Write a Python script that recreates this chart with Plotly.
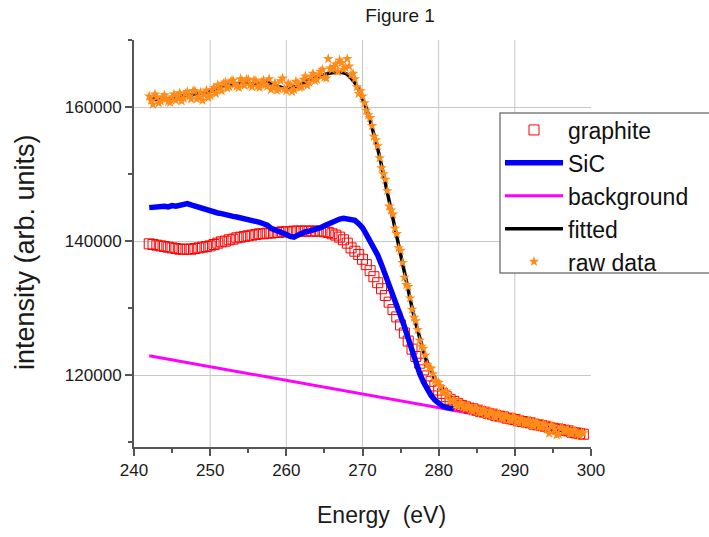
import numpy as np
import plotly.graph_objects as go

# Energy grid (eV) of the sampled spectra
energy = np.round(np.arange(242.0, 299.01, 0.5), 2)
energy_q = np.round(np.arange(242.25, 298.8, 0.5), 2)   # in-between raw-data samples

# values in units of 1000 (arb. units)
graphite_k = [
    139.6, 139.5, 139.4, 139.3, 139.2, 139.1, 139.0, 138.9, 138.8, 138.8,
    138.8, 138.8, 138.9, 139.0, 139.1, 139.2, 139.3, 139.5, 139.7, 139.9,
    140.0, 140.2, 140.3, 140.5, 140.6, 140.7, 140.8, 140.9, 141.0, 141.1,
    141.1, 141.2, 141.2, 141.3, 141.3, 141.4, 141.4, 141.4, 141.5, 141.5,
    141.5, 141.5, 141.5, 141.5, 141.5, 141.5, 141.4, 141.3, 141.1, 140.9,
    140.6, 140.2, 139.7, 139.0, 138.5, 138.0, 137.3, 136.5, 135.6, 134.7,
    133.8, 132.9, 131.9, 130.9, 129.8, 128.7, 127.5, 126.3, 125.1, 123.9,
    122.8, 121.8, 120.8, 119.9, 119.1, 118.4, 117.8, 117.3, 116.8, 116.4,
    116.1, 115.8, 115.5, 115.3, 115.1, 115.0, 114.8, 114.6, 114.5, 114.3,
    114.2, 114.0, 113.9, 113.8, 113.6, 113.5, 113.4, 113.2, 113.1, 113.0,
    112.9, 112.7, 112.6, 112.5, 112.4, 112.2, 112.1, 112.0, 111.9, 111.8,
    111.7, 111.5, 111.4, 111.3, 111.2,
]

sic_k = [
    145.0, 145.1, 145.0, 145.1, 145.2, 145.1, 145.3, 145.2, 145.4, 145.5,
    145.6, 145.4, 145.2, 145.0, 144.9, 144.7, 144.5, 144.4, 144.2, 144.1,
    143.9, 143.8, 143.7, 143.6, 143.5, 143.4, 143.2, 143.0, 142.9, 142.8,
    142.6, 142.4, 141.9, 141.7, 141.6, 141.4, 141.0, 140.7, 140.6, 140.9,
    141.2, 141.4, 141.5, 141.6, 141.8, 142.0, 142.3, 142.6, 142.9, 143.1,
    143.3, 143.4, 143.3, 143.4, 143.1, 142.6, 142.0, 141.0, 140.0, 139.2,
    137.9, 136.5, 135.0, 133.6, 132.1, 130.6, 129.0, 127.3, 125.5, 123.7,
    121.9, 120.3, 119.0, 117.9, 117.0, 116.3, 115.8, 115.4, 115.2, 115.1,
    115.0,
]

fitted_k = [
    161.3, 161.2, 161.2, 161.1, 161.3, 161.2, 161.3, 161.4, 161.5, 161.7,
    161.9, 161.8, 161.9, 162.0, 162.1, 162.1, 162.3, 162.6, 162.8, 163.0,
    163.2, 163.4, 163.3, 163.5, 163.6, 163.5, 163.6, 163.4, 163.5, 163.4,
    163.6, 163.7, 163.4, 163.2, 163.0, 162.9, 162.8, 162.9, 163.0, 163.1,
    163.4, 163.8, 164.1, 164.3, 164.5, 164.7, 164.8, 165.0, 165.1, 165.2,
    165.2, 165.1, 164.9, 164.3, 163.6, 162.6, 161.3, 159.9, 158.0, 156.0,
    153.8, 151.3, 148.6, 146.0, 143.3, 140.6, 137.9, 135.2, 132.6, 130.1,
    127.7, 125.5, 123.6, 122.0, 120.6, 119.5, 118.6, 117.8, 117.2, 116.6,
    116.0, 115.8, 115.4, 115.4, 115.0, 115.1, 114.7, 114.7, 114.4, 114.4,
    114.1, 114.1, 113.8, 113.9, 113.5, 113.6, 113.3, 113.3, 113.0, 113.1,
    112.8, 112.8, 112.5, 112.6, 112.3, 112.3, 112.0, 112.1, 111.8, 111.9,
    111.6, 111.6, 111.3, 111.4, 111.1,
]

raw_k = [
    161.6, 160.4, 161.5, 160.9, 161.8, 160.8, 161.5, 161.0, 162.1, 161.3,
    162.3, 161.2, 162.4, 161.5, 161.0, 162.5, 161.7, 162.9, 163.3, 162.4,
    163.7, 163.0, 164.0, 163.1, 164.2, 163.2, 164.1, 163.0, 163.9, 162.9,
    164.0, 163.1, 162.6, 163.6, 162.7, 164.3, 162.4, 163.3, 162.6, 163.6,
    163.0, 164.6, 163.7, 165.0, 164.1, 165.3, 164.4, 167.2, 165.6, 166.4,
    167.0, 165.6, 167.2, 164.8, 164.2, 162.0, 161.6, 159.5, 158.4, 155.6,
    154.2, 150.9, 149.2, 145.2, 144.0, 141.1, 138.6, 134.6, 133.2, 129.8,
    128.1, 125.2, 124.0, 121.6, 121.0, 119.2, 118.9, 117.5, 117.6, 116.3,
    116.3, 115.4, 115.8, 115.0, 115.4, 114.6, 115.1, 114.3, 114.8, 114.0,
    114.5, 113.7, 114.2, 113.5, 113.9, 113.2, 113.7, 112.9, 113.4, 112.7,
    113.2, 112.4, 112.9, 112.2, 112.6, 111.3, 112.4, 111.1, 112.1, 111.6,
    111.9, 111.3, 111.6, 111.0, 111.4,
]

raw_q_k = [
    161.0, 161.9, 160.6, 161.4, 161.2, 160.7, 161.9, 161.6, 160.9, 162.0,
    161.6, 162.4, 161.2, 162.2, 161.8, 161.4, 162.6, 162.0, 162.7, 163.5,
    162.8, 163.9, 163.4, 162.9, 163.8, 164.1, 163.3, 164.0, 163.1, 163.7,
    163.3, 164.2, 163.0, 162.5, 163.9, 162.7, 163.5, 162.3, 163.8, 162.9,
    164.1, 163.2, 164.5, 163.9, 164.8, 165.6, 164.3, 165.8, 166.0, 165.3,
    166.6, 165.9, 166.1, 165.0, 163.0, 162.4, 160.6, 158.8, 157.2, 155.1,
    152.4, 150.0, 147.5, 144.6, 141.9, 139.0, 136.8, 133.5, 131.5, 128.6,
    126.8, 124.3, 123.0, 121.1, 120.2, 119.0, 118.3, 117.4, 117.0, 116.1,
    115.6, 115.9, 115.2, 115.5, 114.8, 115.1, 114.5, 114.9, 114.1, 114.6,
    113.9, 114.3, 113.6, 114.0, 113.4, 113.8, 113.0, 113.5, 112.8, 113.2,
    112.5, 113.0, 112.3, 112.8, 112.0, 112.5, 111.9, 111.2, 112.2, 111.6,
    111.4, 111.8, 111.2, 111.5,
]

background_x = [242.0, 299.0]
background_k = [122.9, 111.3]

x_grid = [250, 260, 270, 280, 290]

def k(v):
    return [a * 1000 for a in v]

raw_x = list(energy) + list(energy_q)
raw_y = k(raw_k) + k(raw_q_k)

fig = go.Figure()
fig.add_trace(go.Scatter(x=background_x, y=k(background_k), mode="lines", name="background",
                         line=dict(color="#ff00ff", width=3), legendrank=3))
fig.add_trace(go.Scatter(x=energy, y=k(graphite_k), mode="markers", name="graphite",
                         marker=dict(symbol="square-open", size=10, color="#ff0000",
                                     line=dict(width=1, color="#ff0000")), legendrank=1))
fig.add_trace(go.Scatter(x=energy[:len(sic_k)], y=k(sic_k), mode="lines", name="SiC",
                         line=dict(color="#0000ff", width=5.5), legendrank=2))
fig.add_trace(go.Scatter(x=energy, y=k(fitted_k), mode="lines", name="fitted",
                         line=dict(color="#000000", width=3.5), legendrank=4))
fig.add_trace(go.Scatter(x=raw_x, y=raw_y, mode="markers", name="raw data",
                         marker=dict(symbol="star", size=8, color="#ff8c1a",
                                     line=dict(width=0)), legendrank=5))

for gx in x_grid:
    fig.add_shape(type="line", xref="x", yref="paper", x0=gx, x1=gx, y0=0, y1=1,
                  line=dict(color="#c8c8c8", width=1), layer="below")

axis_col = "#555555"
font_family = "Liberation Sans, Arial, sans-serif"
txt = "#1a1a1a"

L, R, T, B = 134, 118, 40, 90
W, H = 709, 537
pw, ph = W - L - R, H - T - B

def px_x(p):
    return (p - L) / pw

def px_y(p):
    return (H - B - p) / ph

# legend frame (runs off the right edge as in the original)
fig.add_shape(type="rect", xref="paper", yref="paper",
              x0=px_x(500), x1=px_x(714), y0=px_y(273), y1=px_y(113),
              fillcolor="white", line=dict(color="#808080", width=1.5), layer="above")

fig.add_annotation(text="Energy \u00a0(eV)", xref="paper", yref="paper",
                   x=px_x(381), y=px_y(515), xanchor="center", yanchor="middle",
                   showarrow=False, font=dict(size=23, color=txt))
fig.add_annotation(text="intensity (arb. units)", xref="paper", yref="paper",
                   x=px_x(25), y=px_y(252), xanchor="center", yanchor="middle",
                   textangle=-90, showarrow=False, font=dict(size=27, color=txt))

fig.update_layout(
    width=W, height=H,
    margin=dict(l=L, r=R, t=T, b=B),
    paper_bgcolor="white", plot_bgcolor="white",
    font=dict(family=font_family, color=txt),
    title=dict(text="Figure 1", x=400 / W, y=1 - 15 / H, xanchor="center", yanchor="middle",
               font=dict(size=19, color=txt)),
    showlegend=True,
    legend=dict(x=px_x(500), y=px_y(108.5), xanchor="left", yanchor="top",
                borderwidth=0, bgcolor="rgba(0,0,0,0)",
                font=dict(size=23, color="#111111"), itemwidth=58, tracegroupgap=0),
    xaxis=dict(range=[240, 300], tick0=240, dtick=10, ticks="outside", ticklen=7, tickwidth=1.5,
               tickcolor=axis_col, showline=True, linecolor=axis_col, linewidth=2,
               showgrid=False, zeroline=False,
               minor=dict(dtick=5, ticks="outside", ticklen=4, tickwidth=1.5, tickcolor=axis_col,
                          showgrid=False),
               tickfont=dict(size=17, color=txt)),
    yaxis=dict(range=[109300, 170000], tick0=0, dtick=20000, tickformat="d", ticks="outside",
               ticklen=7, tickwidth=1.5, tickcolor=axis_col, showline=True, linecolor=axis_col,
               linewidth=2, showgrid=True, gridcolor="#c8c8c8", gridwidth=1, zeroline=False,
               minor=dict(dtick=10000, ticks="outside", ticklen=4, tickwidth=1.5, tickcolor=axis_col,
                          showgrid=False),
               tickfont=dict(size=17, color=txt)),
)

fig.write_html("out.html")
